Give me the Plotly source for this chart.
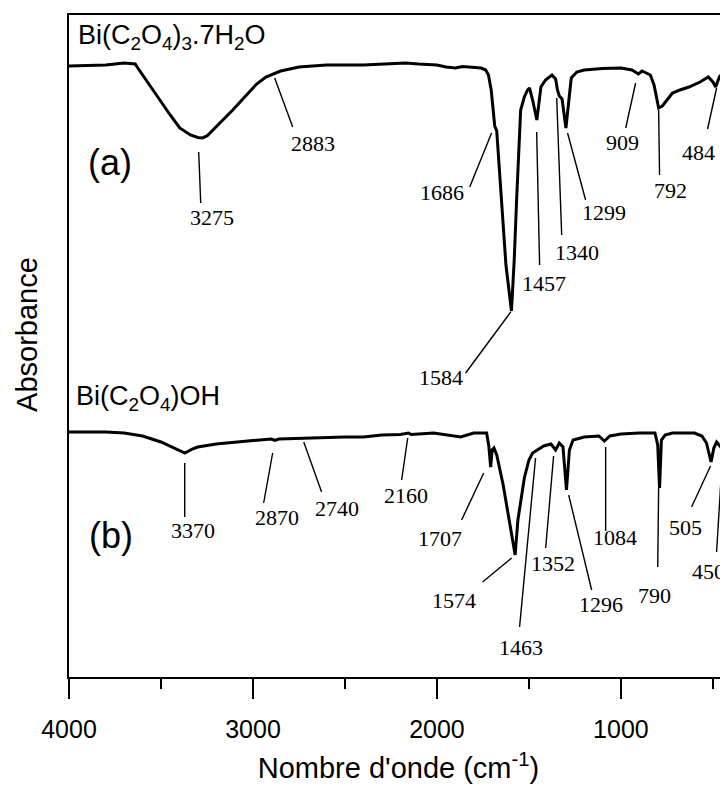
import plotly.graph_objects as go

# ---------------- data ----------------
# Spectrum (a) Bi(C2O4)3.7H2O : wavenumber (cm-1) and intensity (a.u., offset)
wn_a = [4000, 3800, 3700, 3640, 3626, 3589, 3550, 3507, 3450, 3398, 3340, 3300, 3275,
        3250, 3200, 3150, 3110, 3050, 2980, 2930, 2883, 2850, 2750, 2600, 2400, 2200,
        2170, 2100, 2000, 1950, 1900, 1860, 1800, 1760, 1735, 1720, 1705, 1690, 1686,
        1675, 1660, 1645, 1625, 1595, 1580, 1567, 1545, 1525, 1508, 1497, 1480, 1457,
        1445, 1435, 1410, 1375, 1355, 1345, 1335, 1320, 1299, 1285, 1270, 1240, 1200,
        1100, 1000, 940, 905, 885, 840, 820, 805, 795, 775, 750, 720, 680, 630, 570,
        525, 500, 485, 465, 440, 418]
int_a = [61.1, 61.2, 61.4, 61.3, 60.9, 59.9, 58.9, 57.7, 56.2, 54.9, 54.2, 53.95, 53.9,
         54.1, 55.0, 56.0, 56.7, 57.9, 59.3, 60.0, 60.4, 60.6, 61.0, 61.2, 61.2, 61.35,
         61.4, 61.3, 61.2, 61.0, 60.9, 61.05, 61.0, 60.9, 60.7, 60.2, 58.7, 56.2, 55.1,
         54.6, 50.7, 46.2, 41.2, 36.6, 41.7, 47.7, 56.7, 58.0, 58.7, 58.9, 57.7, 55.7,
         57.7, 59.0, 59.7, 60.2, 59.8, 58.7, 58.1, 57.8, 54.9, 57.7, 59.9, 60.5, 60.7,
         60.85, 60.9, 60.7, 60.3, 60.6, 60.2, 59.2, 57.7, 56.9, 57.1, 57.7, 58.4, 58.7,
         59.0, 59.5, 60.0, 59.5, 59.0, 60.0, 60.6, 60.7]

# Spectrum (b) Bi(C2O4)OH
wn_b = [4000, 3800, 3700, 3600, 3500, 3430, 3370, 3330, 3300, 3200, 3100, 3000, 2900,
        2880, 2860, 2700, 2500, 2400, 2300, 2200, 2154, 2140, 2018, 1871, 1800, 1730,
        1718, 1708, 1700, 1690, 1675, 1640, 1605, 1575, 1560, 1545, 1525, 1500, 1480,
        1463, 1420, 1380, 1355, 1335, 1315, 1296, 1280, 1260, 1200, 1120, 1090, 1060,
        1000, 900, 815, 800, 790, 780, 760, 720, 600, 560, 535, 510, 495, 480, 458,
        440, 418]
int_b = [24.5, 24.5, 24.4, 24.1, 23.5, 22.9, 22.4, 22.8, 23.0, 23.3, 23.5, 23.65, 23.8,
         23.65, 23.8, 23.9, 24.0, 24.0, 24.2, 24.25, 24.4, 24.25, 24.4, 24.0, 24.4, 24.4,
         23.1, 21.0, 22.7, 22.9, 22.2, 19.2, 15.2, 12.2, 15.7, 17.7, 19.9, 21.7, 22.4,
         22.6, 23.1, 23.3, 22.7, 23.4, 23.0, 18.7, 22.7, 23.7, 24.0, 24.1, 23.6, 24.1,
         24.3, 24.4, 24.4, 23.2, 18.9, 23.7, 24.2, 24.4, 24.4, 24.1, 23.4, 21.5, 22.9,
         23.5, 23.0, 23.8, 24.1]

# Peak labels
labels_a = ["3275", "2883", "1686", "1584", "1457", "1340", "1299", "909", "792", "484"]
labels_b = ["3370", "2870", "2740", "2160", "1707", "1574", "1463", "1352", "1296",
            "1084", "790", "505", "450"]

x_ticks = [4000, 3000, 2000, 1000]
tick_text = ["4000", "3000", "2000", "1000"]

# ---------------- placement of labels (layout, not data) ----------------
# text position (x, y) and leader line (x0, y0, x1, y1) in axis units
place_a = [
    ((3224, 46.0), (3295, 52.5, 3284, 47.4)),
    ((2676, 53.4), (2882, 59.9, 2784, 55.0)),
    ((1974, 48.5), (1703, 54.4, 1822, 49.0)),
    ((1980, 30.0), (1599, 36.5, 1844, 30.4)),
    ((1420, 39.4), (1458, 54.5, 1442, 41.2)),
    ((1241, 42.5), (1349, 57.9, 1322, 44.2)),
    ((1094, 46.5), (1290, 54.4, 1192, 47.7)),
    ((991, 53.5), (920, 59.4, 974, 54.9)),
    ((730, 48.7), (795, 56.7, 790, 50.2)),
    ((578, 52.5), (480, 58.9, 529, 54.8)),
]
place_b = [
    ((3328, 14.7), (3371, 21.4, 3371, 16.0)),
    ((2871, 16.0), (2893, 22.4, 2942, 17.4)),
    ((2545, 16.9), (2724, 23.5, 2627, 18.5)),
    ((2170, 18.2), (2159, 23.9, 2192, 19.7)),
    ((1985, 13.9), (1746, 20.4, 1866, 15.7)),
    ((1909, 7.7), (1594, 11.9, 1752, 9.5)),
    ((1545, 3.0), (1464, 21.9, 1551, 5.0)),
    ((1371, 11.4), (1366, 22.1, 1409, 12.9)),
    ((1110, 7.3), (1284, 18.2, 1159, 8.7)),
    ((1034, 14.0), (1083, 23.0, 1083, 14.6)),
    ((817, 8.2), (795, 19.0, 800, 11.0)),
    ((648, 15.0), (513, 21.1, 616, 17.0)),
    ((523, 10.6), (447, 22.5, 480, 12.5)),
]

SANS = "Liberation Sans, Arial, sans-serif"
SERIF = "Liberation Serif, Times New Roman, serif"

fig = go.Figure()
fig.add_trace(go.Scatter(x=wn_a, y=int_a, mode="lines",
                         line=dict(color="black", width=3), showlegend=False))
fig.add_trace(go.Scatter(x=wn_b, y=int_b, mode="lines",
                         line=dict(color="black", width=3), showlegend=False))

annotations = []
shapes = []
for lab, ((tx, ty), (x0, y0, x1, y1)) in list(zip(labels_a, place_a)) + list(zip(labels_b, place_b)):
    annotations.append(dict(x=tx, y=ty, xref="x", yref="y", text=lab, showarrow=False,
                            font=dict(family=SERIF, size=22, color="black"),
                            xanchor="center", yanchor="middle"))
    shapes.append(dict(type="line", xref="x", yref="y", x0=x0, y0=y0, x1=x1, y1=y1,
                       line=dict(color="black", width=1.4)))

annotations += [
    dict(x=3964, y=64.0, xref="x", yref="y", showarrow=False, xanchor="left", yanchor="middle",
         text="Bi(C<sub>2</sub>O<sub>4</sub>)<sub>3</sub>.7H<sub>2</sub>O",
         font=dict(family=SANS, size=27, color="black")),
    dict(x=3974, y=27.9, xref="x", yref="y", showarrow=False, xanchor="left", yanchor="middle",
         text="Bi(C<sub>2</sub>O<sub>4</sub>)OH",
         font=dict(family=SANS, size=27, color="black")),
    dict(x=3779, y=51.5, xref="x", yref="y", showarrow=False, text="(a)",
         font=dict(family=SANS, size=36, color="black")),
    dict(x=3773, y=14.2, xref="x", yref="y", showarrow=False, text="(b)",
         font=dict(family=SANS, size=36, color="black")),
    dict(x=-0.064, y=0.518, xref="paper", yref="paper", showarrow=False, text="Absorbance",
         textangle=-90, xanchor="center", yanchor="middle",
         font=dict(family=SANS, size=29, color="black")),
]

fig.update_layout(
    width=720, height=776,
    margin=dict(l=61, r=0, t=7, b=107),
    paper_bgcolor="white", plot_bgcolor="white",
    annotations=annotations, shapes=shapes,
    xaxis=dict(range=[4000, 418], showline=True, mirror=True, linecolor="black", linewidth=2,
               automargin=False,
               ticks="outside", ticklen=20, tickwidth=2, tickcolor="black",
               tickvals=x_ticks, ticktext=tick_text, showgrid=False, zeroline=False,
               minor=dict(tickvals=[3500, 2500, 1500, 500], ticks="outside", ticklen=10,
                          tickwidth=2, tickcolor="black", showgrid=False),
               tickfont=dict(family=SANS, size=25, color="black"), ticklabelstandoff=9,
               title=dict(text="Nombre d'onde (cm<sup>-1</sup>)", standoff=33,
                          font=dict(family=SANS, size=29, color="black"))),
    yaxis=dict(range=[0, 66.2], showline=True, linecolor="black", linewidth=2,
               automargin=False,
               showticklabels=False, ticks="", showgrid=False, zeroline=False),
)

fig.write_html("out.html")
